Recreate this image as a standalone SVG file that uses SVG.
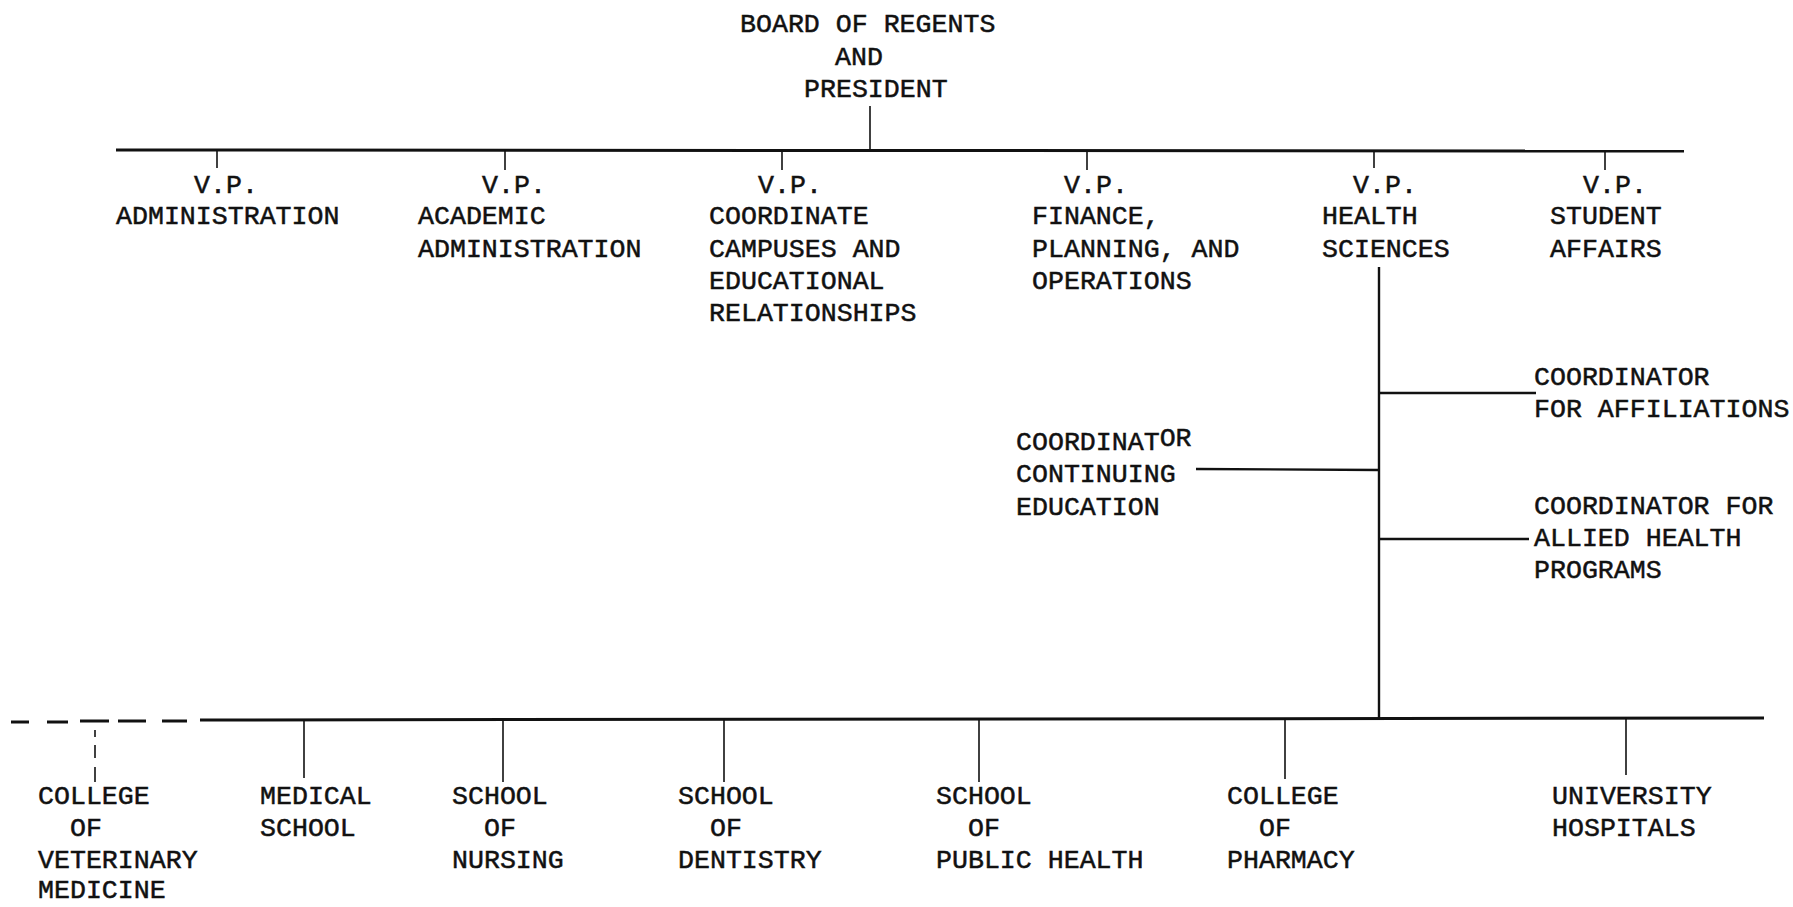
<svg xmlns="http://www.w3.org/2000/svg" width="1793" height="907" viewBox="0 0 1793 907">
<style>
  text { font-family: "Liberation Mono", "DejaVu Sans Mono", monospace; font-size: 26.6px; fill: #111; stroke: #111; stroke-width: 0.5px; }
  .main { stroke: #111; stroke-width: 3; fill: none; }
  .tick { stroke: #111; stroke-width: 1.6; fill: none; }
  .branch { stroke: #111; stroke-width: 2.4; fill: none; }
  .dash { stroke: #111; stroke-width: 3; fill: none; }
  .vdash { stroke: #111; stroke-width: 1.6; fill: none; }
</style>
<rect width="1793" height="907" fill="#fff"/>

<g id="connectors">
  <line class="tick" x1="870" y1="106" x2="870" y2="150"/>
  <line class="main" x1="116" y1="150" x2="1684" y2="151"/>
  <line class="tick" x1="217" y1="150" x2="217" y2="168"/>
  <line class="tick" x1="505" y1="150" x2="505" y2="170"/>
  <line class="tick" x1="782" y1="150" x2="782" y2="170"/>
  <line class="tick" x1="1087" y1="150" x2="1087" y2="170"/>
  <line class="tick" x1="1374" y1="150" x2="1374" y2="168"/>
  <line class="tick" x1="1605" y1="151" x2="1605" y2="170"/>
  <line class="branch" x1="1379" y1="267" x2="1379" y2="718"/>
  <line class="branch" x1="1379" y1="393" x2="1536" y2="393"/>
  <line class="branch" x1="1196" y1="469" x2="1379" y2="470"/>
  <line class="branch" x1="1379" y1="539" x2="1529" y2="539"/>
  <line class="main" x1="200" y1="720" x2="1764" y2="718"/>
  <line class="dash" x1="11" y1="722" x2="29" y2="722"/>
  <line class="dash" x1="47" y1="722" x2="68" y2="722"/>
  <line class="dash" x1="80" y1="721" x2="109" y2="721"/>
  <line class="dash" x1="118" y1="721" x2="146" y2="721"/>
  <line class="dash" x1="162" y1="721" x2="187" y2="721"/>
  <line class="vdash" x1="95" y1="730" x2="95" y2="737"/>
  <line class="vdash" x1="95" y1="745" x2="95" y2="758"/>
  <line class="vdash" x1="95" y1="767" x2="95" y2="782"/>
  <line class="tick" x1="304" y1="720" x2="304" y2="778"/>
  <line class="tick" x1="503" y1="719" x2="503" y2="782"/>
  <line class="tick" x1="724" y1="719" x2="724" y2="782"/>
  <line class="tick" x1="979" y1="719" x2="979" y2="782"/>
  <line class="tick" x1="1285" y1="718" x2="1285" y2="779"/>
  <line class="tick" x1="1626" y1="718" x2="1626" y2="775"/>
</g>

<g id="board">
  <text x="740" y="32">BOARD OF REGENTS</text>
  <text x="835" y="65">AND</text>
  <text x="804" y="97">PRESIDENT</text>
</g>

<g id="vp-administration">
  <text x="194" y="193">V.P.</text>
  <text x="116" y="224">ADMINISTRATION</text>
</g>
<g id="vp-academic">
  <text x="482" y="193">V.P.</text>
  <text x="418" y="224">ACADEMIC</text>
  <text x="418" y="257">ADMINISTRATION</text>
</g>
<g id="vp-coordinate">
  <text x="758" y="193">V.P.</text>
  <text x="709" y="224">COORDINATE</text>
  <text x="709" y="257">CAMPUSES AND</text>
  <text x="709" y="289">EDUCATIONAL</text>
  <text x="709" y="321">RELATIONSHIPS</text>
</g>
<g id="vp-finance">
  <text x="1064" y="193">V.P.</text>
  <text x="1032" y="224">FINANCE,</text>
  <text x="1032" y="257">PLANNING, AND</text>
  <text x="1032" y="289">OPERATIONS</text>
</g>
<g id="vp-health">
  <text x="1353" y="193">V.P.</text>
  <text x="1322" y="224">HEALTH</text>
  <text x="1322" y="257">SCIENCES</text>
</g>
<g id="vp-student">
  <text x="1583" y="193">V.P.</text>
  <text x="1550" y="224">STUDENT</text>
  <text x="1550" y="257">AFFAIRS</text>
</g>

<g id="coord-affiliations">
  <text x="1534" y="385">COORDINATOR</text>
  <text x="1534" y="417">FOR AFFILIATIONS</text>
</g>
<g id="coord-continuing">
  <text x="1016" y="450">COORDINAT<tspan dy="-4">OR</tspan></text>
  <text x="1016" y="482">CONTINUING</text>
  <text x="1016" y="515">EDUCATION</text>
</g>
<g id="coord-allied">
  <text x="1534" y="514">COORDINATOR FOR</text>
  <text x="1534" y="546">ALLIED HEALTH</text>
  <text x="1534" y="578">PROGRAMS</text>
</g>

<g id="college-veterinary">
  <text x="38" y="804">COLLEGE</text>
  <text x="70" y="836">OF</text>
  <text x="38" y="868">VETERINARY</text>
  <text x="38" y="898">MEDICINE</text>
</g>
<g id="medical-school">
  <text x="260" y="804">MEDICAL</text>
  <text x="260" y="836">SCHOOL</text>
</g>
<g id="school-nursing">
  <text x="452" y="804">SCHOOL</text>
  <text x="484" y="836">OF</text>
  <text x="452" y="868">NURSING</text>
</g>
<g id="school-dentistry">
  <text x="678" y="804">SCHOOL</text>
  <text x="710" y="836">OF</text>
  <text x="678" y="868">DENTISTRY</text>
</g>
<g id="school-public-health">
  <text x="936" y="804">SCHOOL</text>
  <text x="968" y="836">OF</text>
  <text x="936" y="868">PUBLIC HEALTH</text>
</g>
<g id="college-pharmacy">
  <text x="1227" y="804">COLLEGE</text>
  <text x="1259" y="836">OF</text>
  <text x="1227" y="868">PHARMACY</text>
</g>
<g id="university-hospitals">
  <text x="1552" y="804">UNIVERSITY</text>
  <text x="1552" y="836">HOSPITALS</text>
</g>
</svg>
